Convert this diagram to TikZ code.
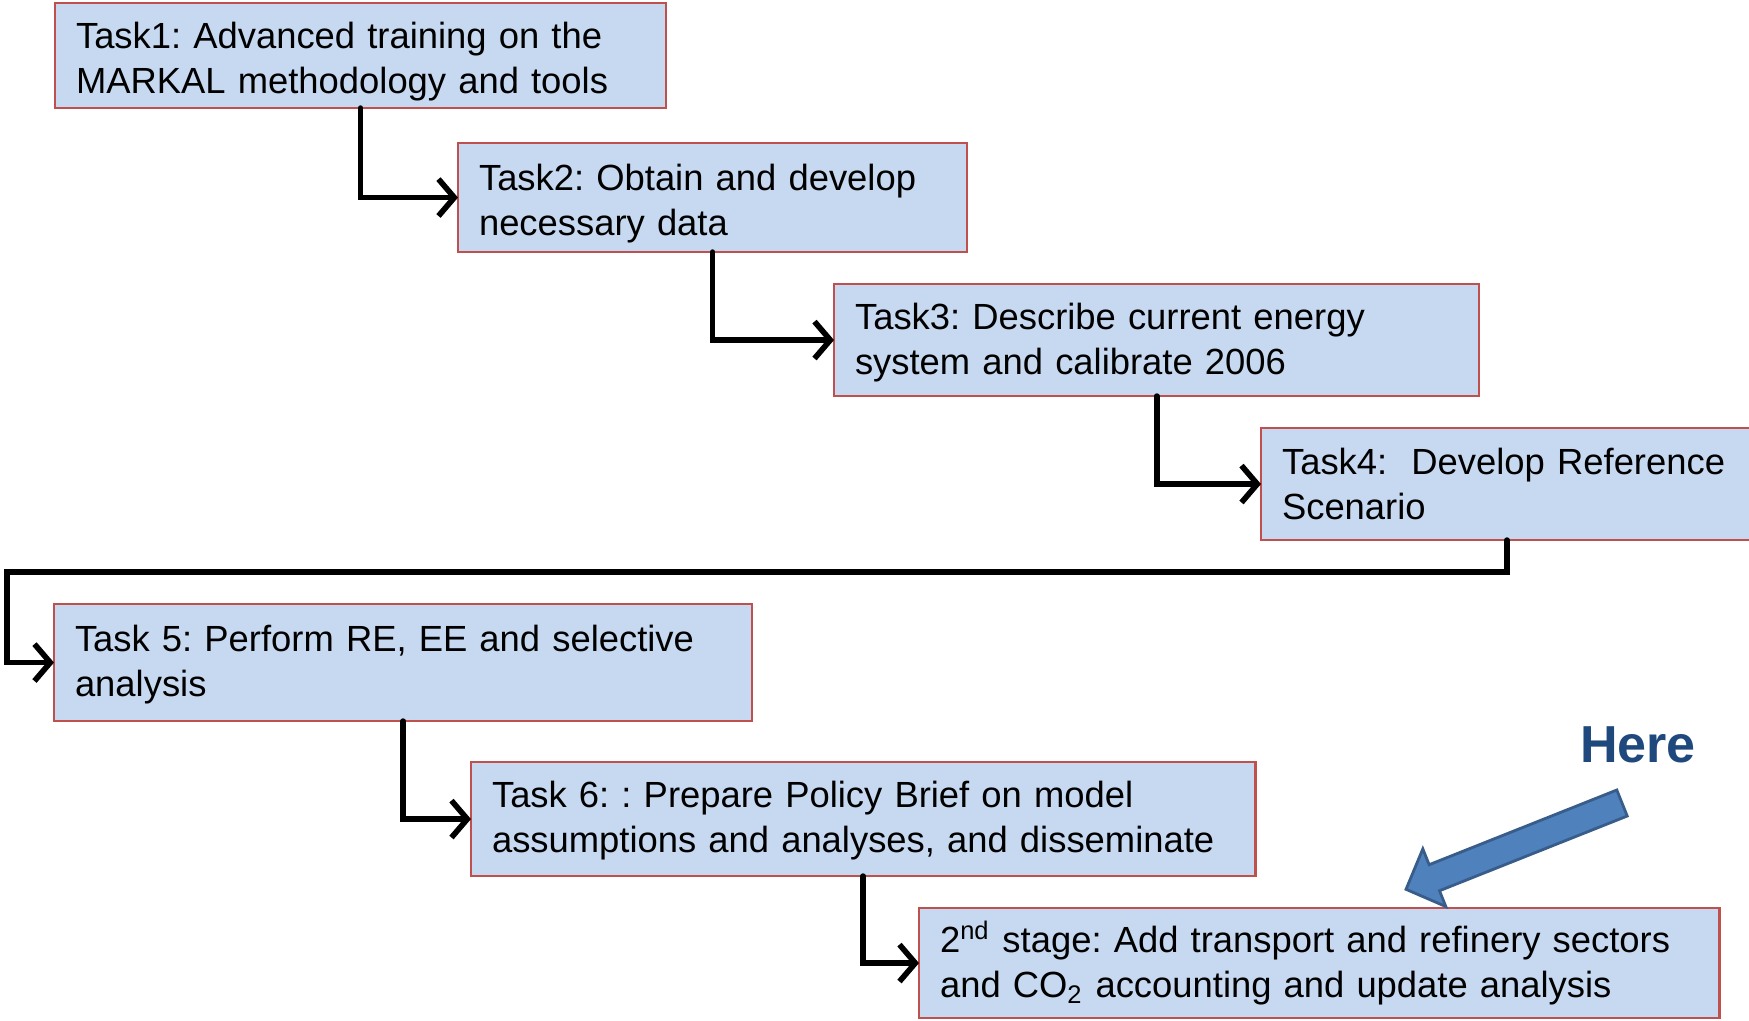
\documentclass[tikz,border=0pt]{standalone}
\usepackage{fontspec}
\setmainfont{Liberation Sans}
\frenchspacing
\usetikzlibrary{arrows.meta,calc}
\definecolor{boxfill}{HTML}{C6D9F1}
\definecolor{boxline}{HTML}{C0504D}
\definecolor{heretext}{HTML}{1F497D}
\definecolor{pointerfill}{HTML}{4F81BD}
\definecolor{pointerline}{HTML}{385D8A}
\tikzset{
    >={Straight Barb[length=4.5pt,width=10.5pt,line width=1.6pt]},
    taskbox/.style={draw=boxline, fill=boxfill, line width=0.6pt,
        anchor=north west, align=left, inner xsep=0.21cm, inner ysep=0pt,
        outer sep=0pt, font=\fontsize{10.35}{12.8}\selectfont},
    textdrop/.style={execute at begin node={\rule{0pt}{#1}}},
    flow/.style={->, line width=1.6pt, line cap=round},
}

\begin{document}
\begin{tikzpicture}[x=0.01cm, y=-0.01cm]
            \useasboundingbox (0,0) rectangle (1749,1020);

            % the task boxes
            \node[taskbox, textdrop=11pt, text width=5.69cm, minimum height=1.05cm] (t1) at (55,3)
                {Task1: Advanced training on the\\MARKAL methodology and tools};
            \node[taskbox, textdrop=11pt, text width=4.67cm, minimum height=1.09cm] (t2) at (458,143)
                {Task2: Obtain and develop\\necessary data};
            \node[taskbox, textdrop=9pt, text width=6.03cm, minimum height=1.12cm] (t3) at (834,284)
                {Task3: Describe current energy\\system and calibrate 2006};
            \node[taskbox, text width=4.77cm, minimum height=1.12cm] (t4) at (1261,428)
                {Task4:\ \ Develop Reference\\Scenario};
            \node[taskbox, textdrop=8.5pt, text width=6.56cm, minimum height=1.17cm] (t5) at (54,604)
                {Task 5: Perform RE, EE and selective\\analysis};
            \node[taskbox, textdrop=8.5pt, text width=7.42cm, minimum height=1.14cm] (t6) at (471,762)
                {Task 6: : Prepare Policy Brief on model\\assumptions and analyses, and disseminate};
            \node[taskbox, text width=7.58cm, minimum height=1.10cm] (t7) at (919,908)
                {2\textsuperscript{nd} stage: Add transport and refinery sectors\\and CO\textsubscript{2} accounting and update analysis};

            % connectors
            \coordinate (r4) at (1507,572);
            \coordinate (l5) at (7,572);
            \draw[flow] (t1.south) |- (t2.west);
            \draw[flow] (t2.south) |- (t3.west);
            \draw[flow] (t3.south) |- (t4.west);
            \draw[flow] (t4.south -| r4) -- (r4) -- (l5) |- (t5.west);
            \draw[flow] (t5.south) |- (t6.west);
            \draw[flow] (t6.south) |- (t7.west);

            % pointer
            \node[text=heretext, font=\fontsize{14.8}{17}\bfseries\selectfont, anchor=base]
                (here) at (1638,762) {Here};
            \draw[fill=pointerfill, draw=pointerline, line width=0.8pt, line join=miter]
                (1616.8,790) -- (1429.1,864.7) -- (1422.8,848.9) -- (1406,889.3)
                -- (1445.8,906.5) -- (1439.5,890.7) -- (1627.2,816) -- cycle;
        \end{tikzpicture}
\end{document}
